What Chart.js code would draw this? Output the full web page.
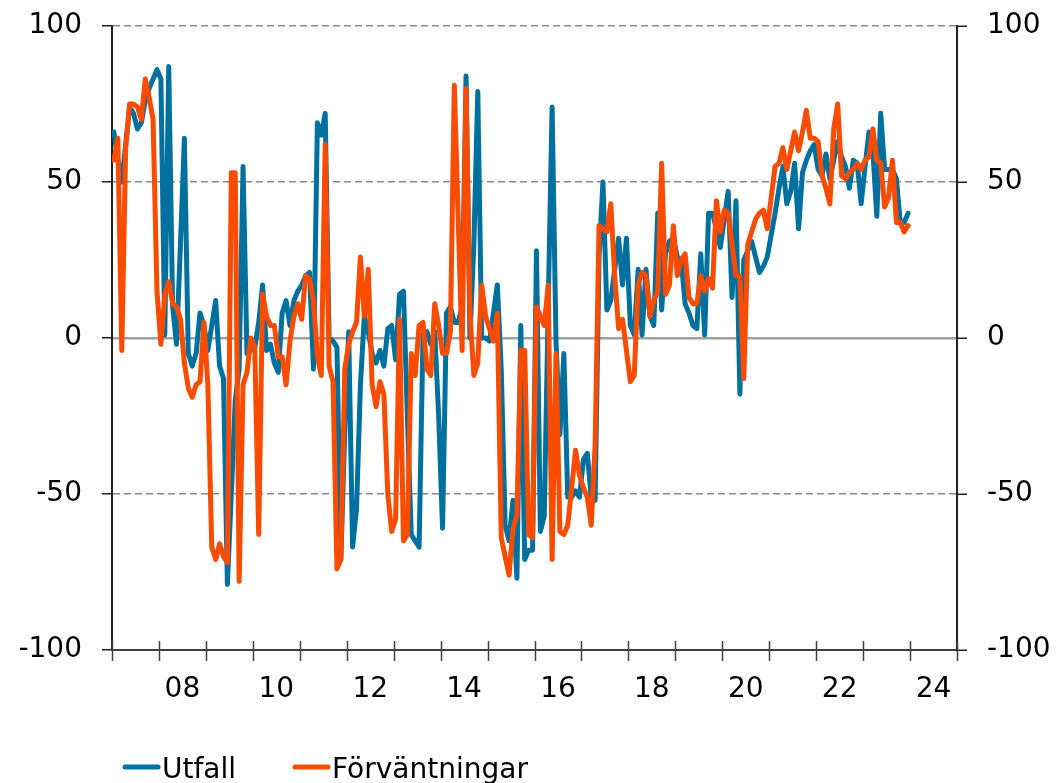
<!DOCTYPE html>
<html>
<head>
<meta charset="utf-8">
<script src="https://cdn.jsdelivr.net/npm/chart.js@4/dist/chart.umd.min.js"></script>
<style>
  body { margin: 0; background: #fff; }
  #wrap { width: 1061px; height: 783px; }
</style>
</head>
<body>
<div id="wrap"><canvas id="myChart" width="1061" height="783"></canvas></div>
<script>
/*global Chart */

// DATA

// monthly categories, Jan 2007 .. Dec 2023
const months = [];
for (let y = 2007; y <= 2023; y++) {
  for (let m = 1; m <= 12; m++) {
    months.push(y + '-' + String(m).padStart(2, '0'));
  }
}

const yearLabels = ['08', '10', '12', '14', '16', '18', '20', '22', '24'];

const utfall = [
  66, 57, 50, 62, 74, 72, 67, 69, 76, 80, 83, 86,
  83, 1, 87, 10, -2, 30, 64, -5, -9, -5, 8, 4,
  -4, 4, 12, -9, -13, -79, -50, -20, -10, 55, -5, -4,
  -3, 5, 17, -4, -2, -8, -11, 8, 12, 4, 12, 15,
  17, 20, 21, -10, 69, 65, 72, 0, -1, -3, -71, -30,
  2, -67, -55, -15, 7, 2, -5, -8, -4, -9, 3, 4,
  -7, 14, 15, -25, -63, -65, -67, 1, 2, -2, 2, -25,
  -61, 8, 10, 5, 5, 10, 84, 0, 30, 79, 0, 0,
  -1, 8, 17, -10, -60, -65, -52, -77, 4, -71, -68, -68,
  28, -62, -57, 10, 74, -1, -31, -5, -51, -51, -49, -51,
  -39, -37, -51, -52, 26, 50, 9, 12, 22, 32, 17, 32,
  4, 1, 22, 1, 22, 7, 4, 40, 9, 27, 31, 32,
  26, 25, 11, 8, 4, 3, 27, 1, 40, 40, 35, 29,
  38, 47, 13, 44, -18, 25, 28, 31, 26, 21, 23, 26,
  33, 40, 48, 55, 43, 47, 56, 35, 53, 57, 60, 62,
  54, 52, 59, 51, 57, 63, 58, 55, 48, 57, 56, 43,
  55, 66, 60, 39, 72, 54, 54, 54, 51, 37, 37, 40
];

const forvantningar = [
  57, 64, -4, 61, 75, 75, 74, 70, 83, 77, 70, 15,
  -2, 14, 18, 11, 10, 6, -8, -16, -19, -15, -14, 5,
  -15, -67, -71, -66, -70, -72, 53, 53, -78, -15, -11, 0,
  -3, -63, 14, 7, 4, 4, -6, -6, -15, -1, 7, 11,
  6, 20, 19, 12, -6, -12, 62, -9, -14, -74, -71, -10,
  -2, 2, 5, 26, 7, 22, -15, -22, -14, -18, -50, -62,
  -58, 6, -65, -63, -5, -12, 4, 5, -10, -12, 11, 4,
  -5, -5, 2, 81, 38, -4, 80, 8, -12, -8, 17, 7,
  3, -1, 8, -64, -70, -76, -61, -57, -4, -4, -63, -64,
  10, 7, 4, 17, -71, -5, -62, -63, -60, -48, -36, -44,
  -48, -51, -60, -34, 36, 35, 34, 43, 20, 3, 6, -4,
  -14, -12, 17, 21, 20, 7, 12, 15, 56, 14, 17, 36,
  20, 25, 27, 13, 11, 11, 20, 15, 19, 16, 44, 34,
  41, 40, 30, 20, 20, -13, 30, 34, 38, 40, 41, 35,
  45, 55, 56, 61, 54, 60, 66, 60, 66, 73, 64, 64,
  63, 52, 48, 43, 67, 75, 52, 51, 53, 54, 56, 54,
  57, 58, 67, 57, 56, 42, 45, 57, 37, 37, 34, 36
];

// STYLE

const BLUE = '#00709F';
const ORANGE = '#F94C00';
const FONT = { family: '"DejaVu Sans", Verdana, sans-serif', size: 28, lineHeight: 1.2 };

function toPoints(values) {
  return months.map(function (label, i) {
    return { x: i + 0.5, y: values[i] };
  });
}

// fixed axis sizes so the plot area matches the original
function fixWidth(w) {
  return function (scale) {
    scale.width = w;
    scale.paddingTop = 0;
    scale.paddingBottom = 0;
  };
}

// year tick marks crossing the bottom axis + legend under the chart
const extras = {
  id: 'extras',
  afterDraw: function (chart) {
    const ctx = chart.ctx;
    const x = chart.scales.x;
    const bottom = chart.chartArea.bottom;
    ctx.save();
    ctx.strokeStyle = '#404040';
    ctx.lineWidth = 1.5;
    for (let v = 0; v <= 216; v += 12) {
      const px = Math.round(x.getPixelForValue(v)) + 0.5;
      ctx.beginPath();
      ctx.moveTo(px, bottom - 9);
      ctx.lineTo(px, bottom + 11);
      ctx.stroke();
    }

    // LEGEND
    const items = [
      { ds: chart.data.datasets[1], x: 123 },
      { ds: chart.data.datasets[0], x: 293 }
    ];
    ctx.font = '28px "DejaVu Sans", Verdana, sans-serif';
    ctx.textBaseline = 'alphabetic';
    ctx.fillStyle = '#000';
    items.forEach(function (it) {
      ctx.strokeStyle = it.ds.borderColor;
      ctx.lineWidth = 5;
      ctx.lineCap = 'round';
      ctx.beginPath();
      ctx.moveTo(it.x + 2, 767);
      ctx.lineTo(it.x + 35, 767);
      ctx.stroke();
      ctx.fillText(it.ds.label, it.x + 39, 778);
    });
    ctx.restore();
  }
};

// CHART

const ctx = document.getElementById('myChart').getContext('2d');

const chart = new Chart(ctx, {
  type: 'line',
  data: {
    datasets: [
      {
        label: 'Förväntningar',
        data: toPoints(forvantningar),
        borderColor: ORANGE,
        backgroundColor: ORANGE,
        borderWidth: 5,
        pointRadius: 0,
        tension: 0,
        borderJoinStyle: 'round',
        borderCapStyle: 'round',
        yAxisID: 'y',
        order: 1
      },
      {
        label: 'Utfall',
        data: toPoints(utfall),
        borderColor: BLUE,
        backgroundColor: BLUE,
        borderWidth: 5,
        pointRadius: 0,
        tension: 0,
        borderJoinStyle: 'round',
        borderCapStyle: 'round',
        yAxisID: 'y',
        order: 2
      }
    ]
  },
  options: {
    responsive: false,
    animation: false,
    devicePixelRatio: 1,
    layout: { padding: { top: 26, left: 0, right: 0, bottom: 0 } },
    plugins: {
      legend: { display: false },
      tooltip: { enabled: false }
    },
    scales: {
      x: {
        type: 'linear',
        position: 'bottom',
        min: 0,
        max: 216,
        afterFit: function (scale) {
          scale.height = 133;
          scale.paddingLeft = 0;
          scale.paddingRight = 0;
        },
        grid: { drawOnChartArea: false, drawTicks: false },
        border: { display: true, color: '#404040', width: 2 },
        ticks: {
          stepSize: 6,
          maxTicksLimit: 100,
          autoSkip: false,
          maxRotation: 0,
          padding: 23,
          color: '#000',
          font: FONT,
          callback: function (value) {
            if (value % 24 === 18) return yearLabels[(value - 18) / 24];
            return '';
          }
        }
      },
      y: {
        position: 'left',
        min: -100,
        max: 100,
        afterFit: fixWidth(112),
        grid: {
          color: function (c) {
            const v = c.tick ? c.tick.value : 0;
            return v === 0 || v === -100 ? 'transparent' : '#8a8a8a';
          },
          lineWidth: 1.5,
          tickLength: 10,
          tickColor: '#222',
          tickWidth: 1.5
        },
        border: { display: true, color: '#222', width: 2, dash: [7, 4] },
        ticks: { stepSize: 50, padding: 20, color: '#000', font: FONT }
      },
      y2: {
        position: 'right',
        min: -100,
        max: 100,
        afterFit: fixWidth(104),
        grid: {
          color: function (c) {
            const v = c.tick ? c.tick.value : 1;
            return v === 0 ? '#a0a0a0' : 'transparent';
          },
          lineWidth: 2.5,
          tickLength: 10,
          tickColor: '#222',
          tickWidth: 1.5
        },
        border: { display: true, color: '#222', width: 2 },
        ticks: { stepSize: 50, padding: 20, color: '#000', font: FONT }
      }
    }
  },
  plugins: [extras]
});
console.log(chart);
</script>
</body>
</html>
